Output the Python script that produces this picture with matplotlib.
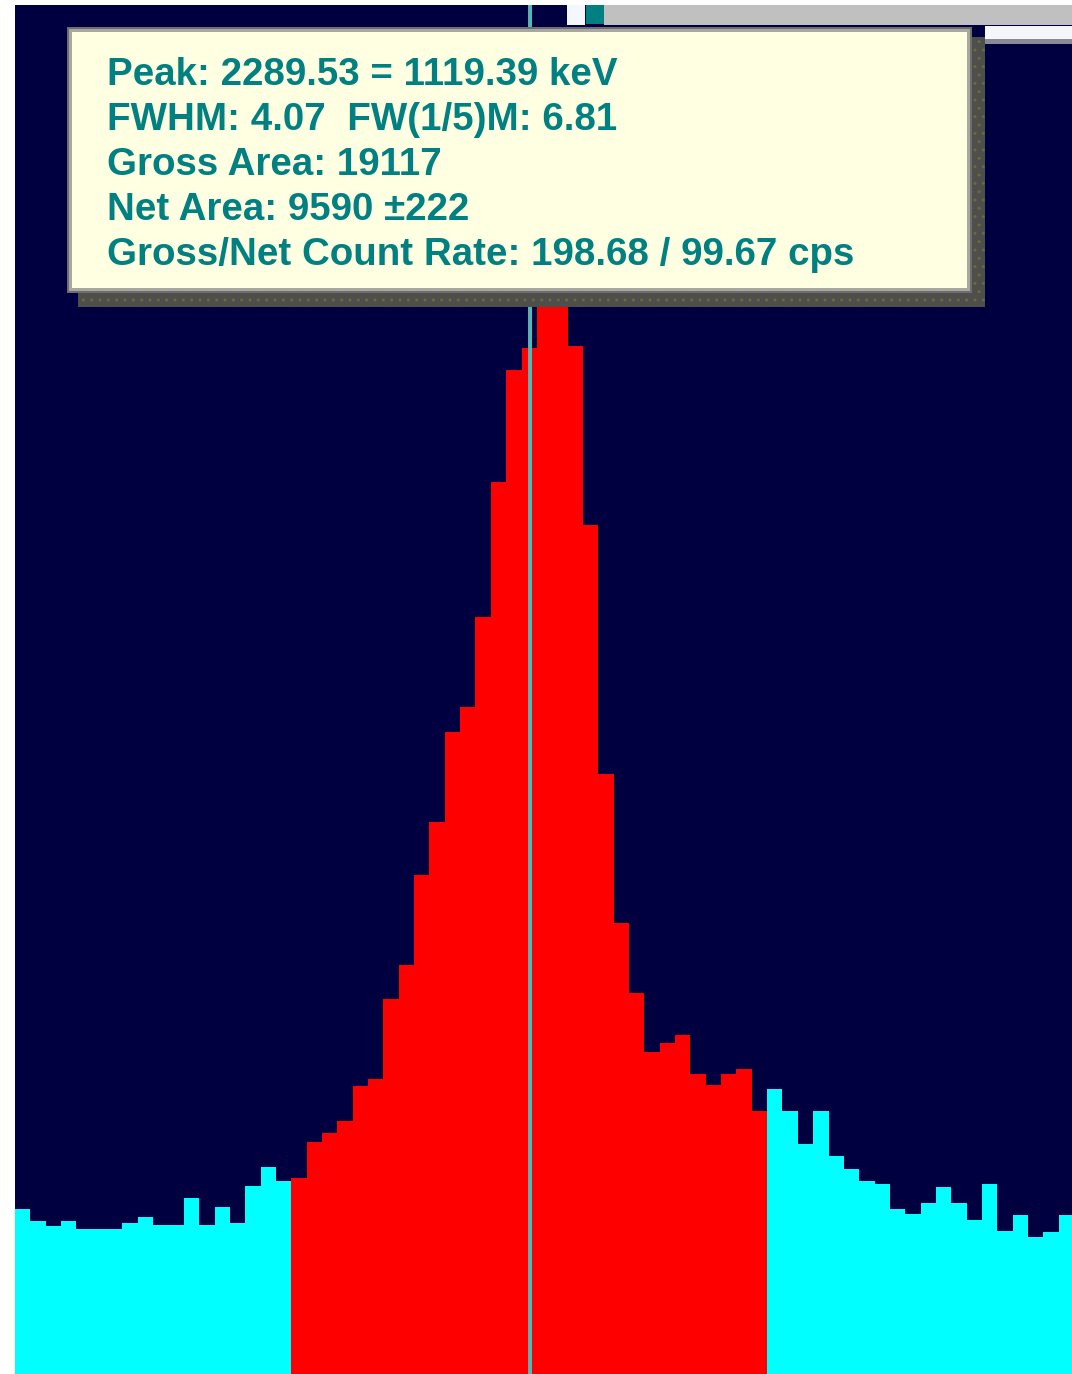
import numpy as np
import matplotlib
matplotlib.use("Agg")
import matplotlib.pyplot as plt
from matplotlib.patches import Rectangle

# spectrum counts per channel (peak top hidden by the tooltip)
first_channel = 2256
counts = [
    165, 153, 148, 153, 145, 145, 145, 151, 157, 149, 149, 176, 149, 167, 151, 188, 207, 193,
    196, 232, 241, 253, 288, 295, 375, 409, 499, 552, 642, 667, 757, 892, 1004, 1026,
    1250, 1180, 1028, 849, 600, 451, 381, 322, 331, 339, 300, 289, 300, 305, 263,
    285, 263, 230, 263, 218, 205, 193, 190, 165, 160, 171, 187, 171, 154, 190, 143, 159, 137, 142, 159,
]
roi_start, roi_end = 2274, 2304
cursor_channel = 2289.05
view_channels = (2255.5, 2324.36)
view_counts = (0, 1369)

info_lines = [
    "Peak: 2289.53 = 1119.39 keV",
    "FWHM: 4.07  FW(1/5)M: 6.81",
    "Gross Area: 19117",
    "Net Area: 9590 \u00b1222",
    "Gross/Net Count Rate: 198.68 / 99.67 cps",
]

navy = "#000040"
teal = "#008080"

channels = first_channel + np.arange(len(counts))
colors = ["#ff0000" if roi_start <= c <= roi_end else "#00ffff" for c in channels]

fig = plt.figure(figsize=(10.72, 13.74), dpi=100)
fig.patch.set_facecolor("white")

ax = fig.add_axes([15 / 1072, 0, 1057 / 1072, 1369 / 1374])
ax.set_facecolor(navy)
ax.bar(channels, counts, width=1.0, color=colors, linewidth=0, antialiased=False)
ax.axvline(cursor_channel, color="#8a9a9a", lw=2.9)
ax.axvline(cursor_channel, color="#38c4c4", lw=1.9)
ax.set_xlim(*view_channels)
ax.set_ylim(*view_counts)
ax.set_xticks([])
ax.set_yticks([])
for s in ax.spines.values():
    s.set_visible(False)

# screen overlay in pixel coordinates (tooltip + window bits)
ov = fig.add_axes([0, 0, 1, 1], zorder=5)
ov.set_xlim(0, 1072)
ov.set_ylim(1374, 0)
ov.axis("off")

ov.add_patch(Rectangle((604, 5), 468, 20, facecolor="#c0c0c0", lw=0))
ov.add_patch(Rectangle((567, 5), 18, 20, facecolor="#f4f7fc", lw=0))
ov.add_patch(Rectangle((586, 5), 18, 19, facecolor=teal, lw=0))
ov.add_patch(Rectangle((985, 26), 87, 13, facecolor="#f4f6fc", lw=0))
ov.add_patch(Rectangle((985, 39), 87, 5, facecolor="#8a8a96", lw=0))

ov.add_patch(Rectangle((78, 37), 907, 270, facecolor="#4e4e4a", edgecolor="#6a6a3a",
                       hatch="..", lw=0))
ov.add_patch(Rectangle((67, 27), 905, 266, facecolor="#6e6e6e", lw=0))
ov.add_patch(Rectangle((69, 29), 901, 262, facecolor="#a8a8a0", lw=0))
ov.add_patch(Rectangle((72, 32), 895, 256, facecolor="#ffffe1", lw=0))

for i, line in enumerate(info_lines):
    ov.text(107, 85 + i * 44.9, line, color=teal, fontsize=27.7, fontweight="bold",
            family=["Liberation Sans", "DejaVu Sans"], va="baseline", ha="left")

fig.savefig("out.png", dpi=100, facecolor=fig.get_facecolor())
